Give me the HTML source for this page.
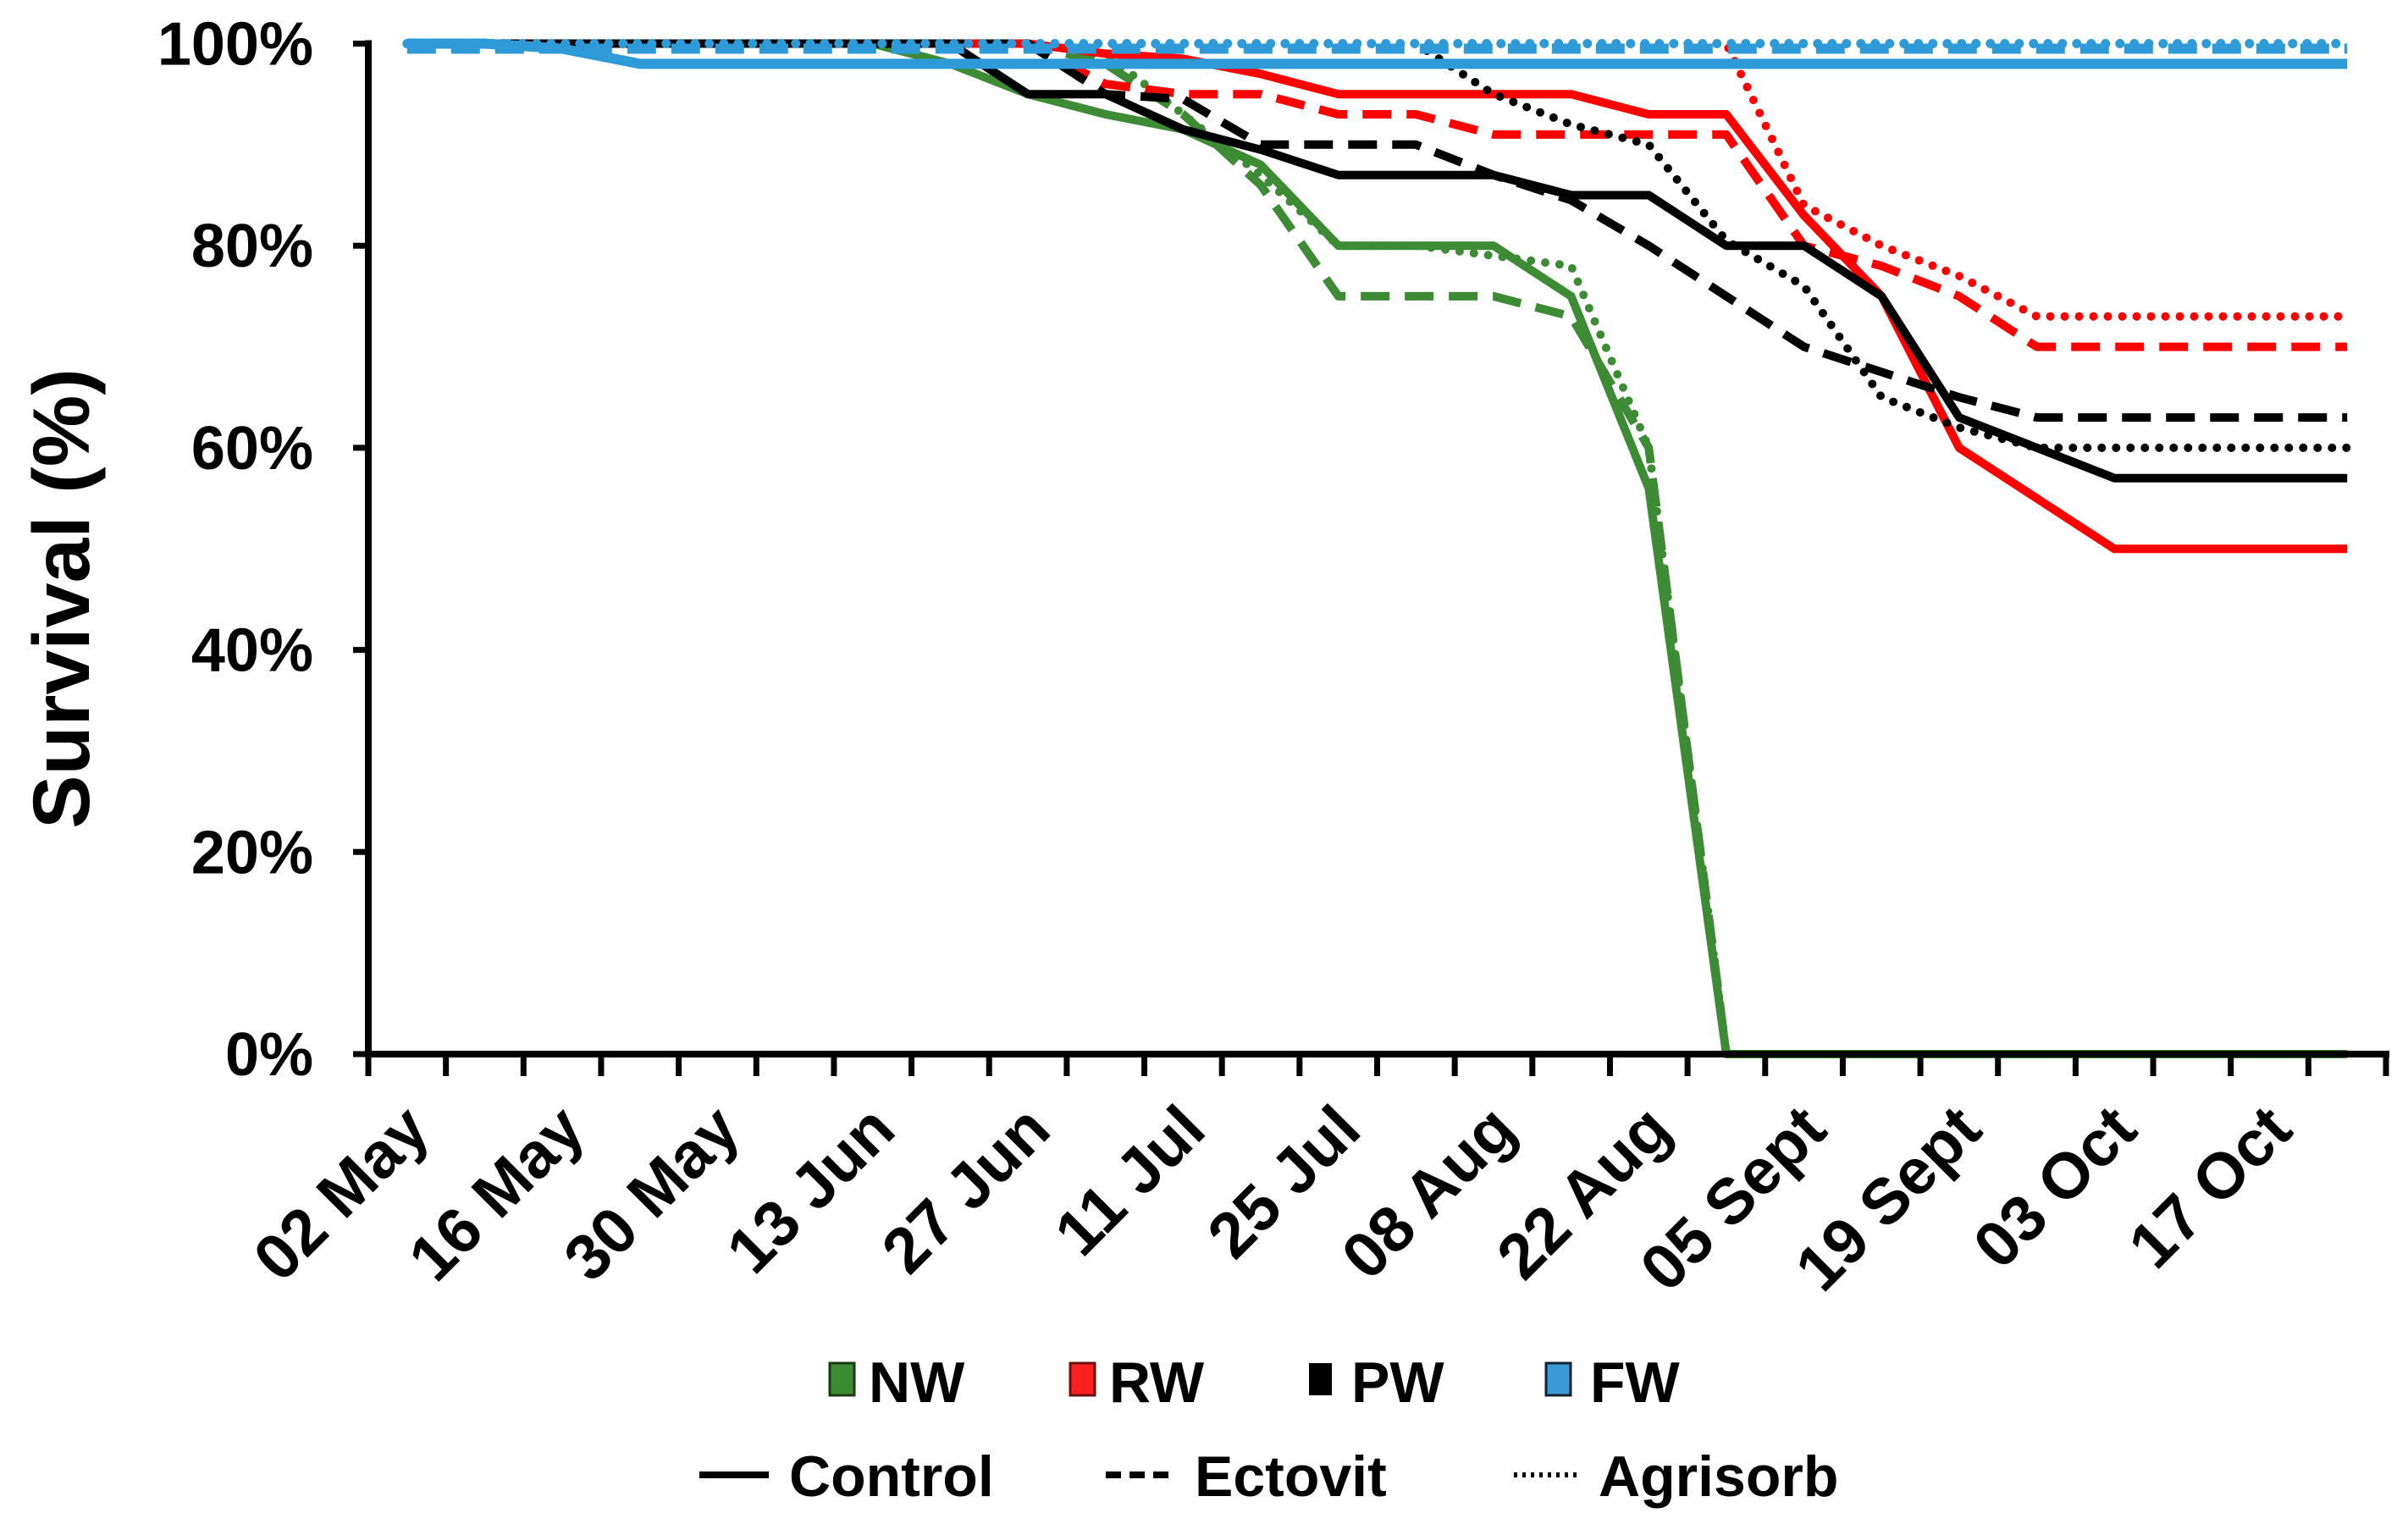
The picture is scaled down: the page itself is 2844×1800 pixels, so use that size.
<!DOCTYPE html>
<html><head><meta charset="utf-8">
<style>
html,body{margin:0;padding:0;background:#fff;}
svg{display:block;font-family:"Liberation Sans",Arial,sans-serif;font-weight:bold;}
</style></head>
<body>
<svg id="chart" width="2844" height="1800" viewBox="0 0 2844 1800" xmlns="http://www.w3.org/2000/svg">
<g id="grid-layer"></g>
<g id="series-layer"></g>
<g id="axis-layer"></g>
<text x="0" y="0" font-size="95" text-anchor="middle" transform="translate(105,707) rotate(-90)">Survival (%)</text>
<g>
  <rect x="980" y="1610" width="29" height="38" fill="#3d8b34" stroke="#1a3a16" stroke-width="3"/>
  <text x="1026" y="1656" font-size="68">NW</text>
  <rect x="1264" y="1610" width="29" height="38" fill="#ff2020" stroke="#6a1010" stroke-width="3"/>
  <text x="1310" y="1656" font-size="68">RW</text>
  <rect x="1546" y="1610" width="27" height="38" fill="#000"/>
  <text x="1596" y="1656" font-size="68">PW</text>
  <rect x="1826" y="1610" width="29" height="38" fill="#3a9ad8" stroke="#123" stroke-width="3"/>
  <text x="1878" y="1656" font-size="68">FW</text>
  <line x1="826" y1="1742" x2="908" y2="1742" stroke="#000" stroke-width="8"/>
  <text x="932" y="1767" font-size="68">Control</text>
  <line x1="1306" y1="1742" x2="1388" y2="1742" stroke="#000" stroke-width="8" stroke-dasharray="18 10"/>
  <text x="1411" y="1767" font-size="68">Ectovit</text>
  <line x1="1788" y1="1742" x2="1862" y2="1742" stroke="#000" stroke-width="6" stroke-dasharray="4 6"/>
  <text x="1888" y="1767" font-size="68">Agrisorb</text>
</g>
</svg>
<script>
const categoryCount = 26;
const xLabels = ["02 May","16 May","30 May","13 Jun","27 Jun","11 Jul","25 Jul","08 Aug","22 Aug","05 Sept","19 Sept","03 Oct","17 Oct"];
const yTicks = [0,20,40,60,80,100];
const nwControl = [100,100,100,100,100,100,100,98,95,93,91.5,88,80,80,80,75,56,0,0,0,0,0,0,0,0,0];
const nwEctovit = [100,100,100,100,100,100,100,100,100,98,93,86,75,75,75,73,60,0,0,0,0,0,0,0,0,0];
const nwAgrisorb = [100,100,100,100,100,100,100,100,100,99,93,87,80,80,79,78,60,0,0,0,0,0,0,0,0,0];
const rwControl = [100,100,100,100,100,100,100,100,100,99,98.5,97,95,95,95,95,93,93,83,75,60,55,50,50,50,50];
const rwEctovit = [100,100,100,100,100,100,100,100,100,96,95,95,93,93,91,91,91,91,80,78,75,70,70,70,70,70];
const rwAgrisorb = [100,100,100,100,100,100,100,100,100,100,100,100,100,100,100,100,100,100,84,80,77,73,73,73,73,73];
const pwControl = [100,100,100,100,100,100,100,100,95,95,91.5,89.5,87,87,87,85,85,80,80,75,63,60,57,57,57,57];
const pwEctovit = [100,100,100,100,100,100,100,100,100,95,94.5,90,90,90,87,84.5,80,75,70,67.5,65,63,63,63,63,63];
const pwAgrisorb = [100,100,100,100,100,100,100,100,100,100,100,100,100,100,95,92,90,80.5,76,65,62,60,60,60,60,60];
const fwControl = [100,100,99.5,98,98,98,98,98,98,98,98,98,98,98,98,98,98,98,98,98,98,98,98,98,98,98];
const fwEctovit = [99.5,99.5,99.5,99.5,99.5,99.5,99.5,99.5,99.5,99.5,99.5,99.5,99.5,99.5,99.5,99.5,99.5,99.5,99.5,99.5,99.5,99.5,99.5,99.5,99.5,99.5];
const fwAgrisorb = [100,100,100,100,100,100,100,100,100,100,100,100,100,100,100,100,100,100,100,100,100,100,100,100,100,100];

const NS = "http://www.w3.org/2000/svg";
const X0 = 435, X1 = 2818, Y0 = 1245, Y100 = 51.5;
const catW = (X1 - X0) / categoryCount;
function xPos(i){ return X0 + (i + 0.5) * catW; }
function yPos(v){ return Y0 - (v / 100) * (Y0 - Y100); }
function mk(tag, attrs, parent){
  const el = document.createElementNS(NS, tag);
  for (const k in attrs) el.setAttribute(k, attrs[k]);
  parent.appendChild(el);
  return el;
}
const axisLayer = document.getElementById("axis-layer");
const seriesLayer = document.getElementById("series-layer");

const seriesDefs = [
  {name:"nw-control", data:nwControl, color:"#3d8b34", dash:null, w:10},
  {name:"nw-ectovit", data:nwEctovit, color:"#3d8b34", dash:"34 18", w:10},
  {name:"nw-agrisorb", data:nwAgrisorb, color:"#3d8b34", dash:"0 17", w:10},
  {name:"rw-control", data:rwControl, color:"#ff0000", dash:null, w:10},
  {name:"rw-ectovit", data:rwEctovit, color:"#ff0000", dash:"34 18", w:10},
  {name:"rw-agrisorb", data:rwAgrisorb, color:"#ff0000", dash:"0 17", w:10},
  {name:"pw-control", data:pwControl, color:"#000000", dash:null, w:10},
  {name:"pw-ectovit", data:pwEctovit, color:"#000000", dash:"34 18", w:10},
  {name:"pw-agrisorb", data:pwAgrisorb, color:"#000000", dash:"0 17", w:10},
  {name:"fw-control", data:fwControl, color:"#2f9ad8", dash:null, w:12},
  {name:"fw-ectovit", data:fwEctovit, color:"#2f9ad8", dash:"34 18", w:12},
  {name:"fw-agrisorb", data:fwAgrisorb, color:"#2f9ad8", dash:"0 17", w:11}
];
seriesDefs.forEach(s => {
  const pts = s.data.map((v,i) => xPos(i).toFixed(1) + "," + yPos(v).toFixed(1)).join(" ");
  const attrs = {points:pts, fill:"none", stroke:s.color, "stroke-width":s.w, "stroke-linejoin":"round", "stroke-linecap": s.dash && s.dash.startsWith("0") ? "round" : "butt"};
  if (s.dash) attrs["stroke-dasharray"] = s.dash;
  const pl = mk("polyline", attrs, seriesLayer);
  
  
});

const yAxis = mk("line", {x1:X0, y1:Y100-4, x2:X0, y2:Y0+4, stroke:"#000", "stroke-width":8}, axisLayer);


const xAxis = mk("line", {x1:X0-4, y1:Y0, x2:X1+4, y2:Y0, stroke:"#000", "stroke-width":8}, axisLayer);



yTicks.forEach(v => {
  const y = yPos(v);
  const t = mk("line", {x1:X0-18, y1:y, x2:X0, y2:y, stroke:"#000", "stroke-width":7}, axisLayer);
  
  
  const lb = mk("text", {x:370, y:y+25, "font-size":72, "text-anchor":"end"}, axisLayer);
  lb.textContent = v + "%";
  
  
});
for (let i = 0; i <= categoryCount; i++){
  const x = X0 + i * catW;
  const t = mk("line", {x1:x, y1:Y0, x2:x, y2:Y0+26, stroke:"#000", "stroke-width":7}, axisLayer);
  
  
}
xLabels.forEach((lab, j) => {
  const x = xPos(j * 2) + 30, y = 1338;
  const tx = mk("text", {x:0, y:0, "font-size":76, "text-anchor":"end", transform:"translate(" + x + "," + y + ") rotate(-45)"}, axisLayer);
  tx.textContent = lab;
  
  
});
</script>
</body></html>
